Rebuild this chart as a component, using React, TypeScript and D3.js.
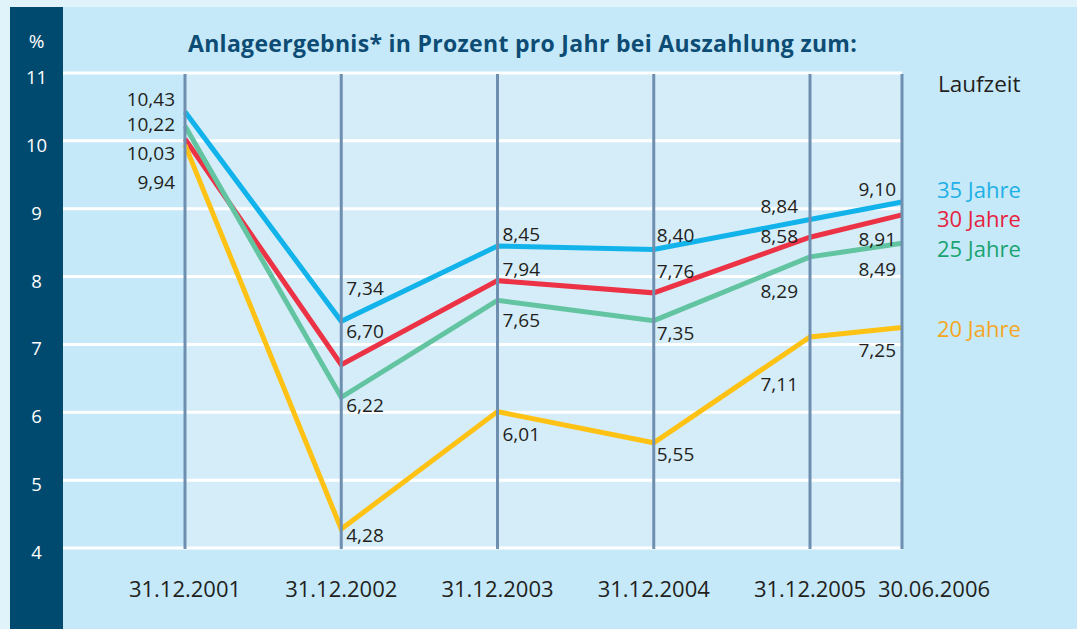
import React from 'react';
import * as d3 from 'd3';

// x categories (Auszahlung zum)
const dates = ['31.12.2001', '31.12.2002', '31.12.2003', '31.12.2004', '31.12.2005', '30.06.2006'];
const yTicks = [4, 5, 6, 7, 8, 9, 10, 11];

// Anlageergebnis in % p.a. per Laufzeit
const names = ['35 Jahre', '30 Jahre', '25 Jahre', '20 Jahre'];
const values35 = [10.43, 7.34, 8.45, 8.40, 8.84, 9.10];
const values30 = [10.03, 6.70, 7.94, 7.76, 8.58, 8.91];
const values25 = [10.22, 6.22, 7.65, 7.35, 8.29, 8.49];
const values20 = [9.94, 4.28, 6.01, 5.55, 7.11, 7.25];
const allValues = [values35, values30, values25, values20];

const lineColors = ['#12b3ea', '#ec3346', '#62c4a1', '#fec214'];
const legendColors = ['#1eb0e6', '#e62240', '#19a36f', '#f5a623'];

// label placement (offsets from the data point)
const colAnchor = ['end', 'start', 'start', 'start', 'end', 'end'];
const colDx = [-10, 5, 5, 3, -12, -6];
const labelDy = [
  [-6, -26, -5, -7, -7, -6],
  [21, -27, -5, -15, 6, 31],
  [5, 15, 27, 19, 41, 33],
  [44, 13, 29, 18, 54, 30],
];
const legendDy = [-4, 12, 14, 10];

const W = 1077;
const H = 629;
const FONT = "'Open Sans', 'Noto Sans', sans-serif";

const fmt = (v: number) => v.toFixed(2).replace('.', ',');

export default function App() {
  const sideLeft = 10, sideRight = 63, top = 7;
  const plotLeft = 185, lastRegular = 810, plotRight = 902;
  const plotTop = 73, plotBottom = 548;

  const x = d3.scaleLinear()
    .domain([0, dates.length - 2, dates.length - 1])
    .range([plotLeft, lastRegular, plotRight]);
  const y = d3.scaleLinear().domain([4, 11]).range([plotBottom, plotTop]);

  const line = d3.line<number>()
    .x((d, i) => x(i))
    .y(d => y(d));

  return (
    <svg width={W} height={H} style={{ position: 'absolute', left: 0, top: 0 }} fontFamily={FONT}>
      <rect x={0} y={0} width={W} height={H} fill="#e0f2fa" />
      <rect x={sideLeft} y={top} width={W - sideLeft} height={H - top} fill="#c5e9f8" />
      <rect x={sideLeft} y={top} width={sideRight - sideLeft} height={H - top} fill="#004a70" />
      <rect x={plotLeft} y={plotTop} width={plotRight - plotLeft} height={plotBottom - plotTop} fill="#d5edf9" />

      <text x={(sideLeft + sideRight) / 2} y={48} fill="#fff" fontSize={19} textAnchor="middle">%</text>
      <text x={188} y={52} fill="#0d4c74" fontSize={23} fontWeight="bold" letterSpacing={0.3}>
        Anlageergebnis* in Prozent pro Jahr bei Auszahlung zum:
      </text>

      {yTicks.map(t => (
        <g key={t}>
          <line x1={sideRight} x2={plotRight} y1={y(t)} y2={y(t)} stroke="#fff" strokeWidth={3} />
          <text x={(sideLeft + sideRight) / 2} y={y(t) + 11} fill="#fff" fontSize={18.5} textAnchor="middle">{t}</text>
        </g>
      ))}

      {allValues.map((vals, s) => (
        <path key={s} d={line(vals) || ''} fill="none" stroke={lineColors[s]} strokeWidth={5} />
      ))}

      {dates.map((d, i) => (
        <line key={d} x1={x(i)} x2={x(i)} y1={plotTop + 1} y2={plotBottom + 1} stroke="#6f8fb1" strokeWidth={3} />
      ))}

      {allValues.map((vals, s) =>
        vals.map((v, i) => (
          <text key={s + '-' + i} x={x(i) + colDx[i]} y={y(v) + labelDy[s][i]}
            fontSize={19} fill="#231f20" textAnchor={colAnchor[i]}>{fmt(v)}</text>
        ))
      )}

      {dates.map((d, i) => (
        <text key={d} x={x(i) + (i === dates.length - 1 ? 32 : 0)} y={597}
          fontSize={22} fill="#231f20" textAnchor="middle">{d}</text>
      ))}

      <text x={938} y={92} fontSize={22.5} fill="#231f20">Laufzeit</text>
      {names.map((n, s) => (
        <text key={n} x={937} y={y(allValues[s][dates.length - 1]) + legendDy[s]}
          fontSize={22} fill={legendColors[s]}>{n}</text>
      ))}
    </svg>
  );
}
